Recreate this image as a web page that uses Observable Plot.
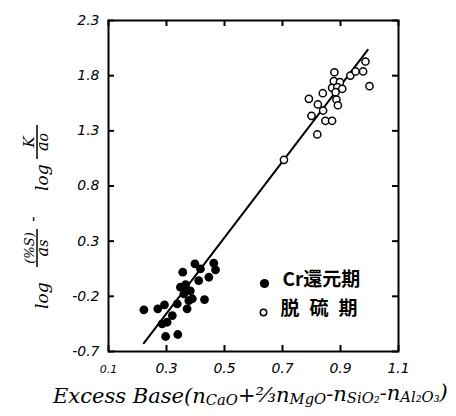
<!DOCTYPE html>
<html><head><meta charset="utf-8">
<script src="https://cdn.jsdelivr.net/npm/d3@7"></script>
<script src="https://cdn.jsdelivr.net/npm/@observablehq/plot@0.6"></script>
<style>body{margin:0;background:#fff}</style>
</head><body><div id="chart"></div>
<script>
const xTicks = [0.1, 0.3, 0.5, 0.7, 0.9, 1.1];
const yTicks = [-0.7, -0.2, 0.3, 0.8, 1.3, 1.8, 2.3];
// Cr還元期 (filled)
const crX = [0.222, 0.270, 0.293, 0.356, 0.398, 0.463, 0.469, 0.446, 0.417, 0.411, 0.348, 0.360, 0.377, 0.389, 0.371, 0.337, 0.431, 0.320, 0.302, 0.285, 0.297, 0.339, 0.366, 0.382];
const crY = [-0.322, -0.313, -0.277, 0.019, 0.095, 0.100, 0.040, -0.027, 0.049, -0.057, -0.117, -0.177, -0.238, -0.222, -0.313, -0.268, -0.229, -0.374, -0.435, -0.449, -0.564, -0.546, -0.093, -0.150];
// 脱硫期 (open)
const desX = [0.705, 0.820, 0.800, 0.840, 0.848, 0.871, 0.822, 0.791, 0.839, 0.886, 0.891, 0.879, 0.877, 0.898, 0.871, 0.889, 0.906, 0.883, 0.934, 0.952, 0.978, 0.986, 1.000];
const desY = [1.037, 1.267, 1.436, 1.484, 1.391, 1.391, 1.539, 1.590, 1.641, 1.584, 1.532, 1.831, 1.750, 1.741, 1.690, 1.696, 1.681, 1.650, 1.801, 1.838, 1.838, 1.928, 1.705];
// fitted line
const fitX = [0.222, 0.994];
const fitY = [-0.625, 2.034];
const legendLabels = ["Cr還元期", "脱硫期"];

const cr = crX.map((x, i) => ({x, y: crY[i]}));
const des = desX.map((x, i) => ({x, y: desY[i]}));
const fit = fitX.map((x, i) => ({x, y: fitY[i]}));

const W = 456, H = 416, ML = 108, MR = 58, MT = 20, MB = 65;
const innerW = W - ML - MR, innerH = H - MT - MB, TICK = 6;
const tickFont = "'DejaVu Sans', sans-serif";
const titleFont = "'DejaVu Serif', 'Liberation Serif', serif";
const cjkFont = "'Noto Sans CJK JP', sans-serif";
const plot = Plot.plot({
  width: W, height: H,
  marginLeft: ML, marginRight: MR, marginTop: MT, marginBottom: MB,
  x: {domain: [0.1, 1.1], axis: null},
  y: {domain: [-0.7, 2.3], axis: null},
  style: {background: "white", color: "black"},
  marks: [
    Plot.ruleX(xTicks, {x: d => d, insetTop: innerH - TICK, stroke: "black", strokeWidth: 2}),
    Plot.ruleX(xTicks, {x: d => d, insetBottom: innerH - TICK, stroke: "black", strokeWidth: 2}),
    Plot.ruleY(yTicks, {y: d => d, insetRight: innerW - TICK, stroke: "black", strokeWidth: 2}),
    Plot.ruleY(yTicks, {y: d => d, insetLeft: innerW - TICK, stroke: "black", strokeWidth: 2}),
    Plot.frame({stroke: "black", strokeWidth: 2}),
    Plot.text(xTicks, {x: d => d, frameAnchor: "bottom", dy: 21, text: d => d.toFixed(1),
      fontSize: d => d === 0.1 ? 11 : 14, fontStyle: "italic", fontFamily: tickFont}),
    Plot.text(yTicks, {y: d => d, frameAnchor: "left", dx: -9, textAnchor: "end", text: d => d.toFixed(1),
      fontSize: 14, fontStyle: "italic", fontFamily: tickFont}),
    Plot.line(fit, {x: "x", y: "y", stroke: "black", strokeWidth: 2}),
    Plot.dot(cr, {x: "x", y: "y", r: 4.4, fill: "black", stroke: "none"}),
    Plot.dot(des, {x: "x", y: "y", r: 3.6, fill: "white", stroke: "black", strokeWidth: 1.5}),
    Plot.dot([legendLabels[0]], {frameAnchor: "bottom-right", dx: -134, dy: -68, r: 4.6, fill: "black", stroke: "none"}),
    Plot.dot([legendLabels[1]], {frameAnchor: "bottom-right", dx: -135, dy: -39, r: 3.2, fill: "white", stroke: "black", strokeWidth: 1.5}),
    Plot.text([legendLabels[0]], {frameAnchor: "bottom-right", dx: -116, dy: -66, textAnchor: "start", text: d => d,
      fontSize: 19, fontWeight: "bold", fontFamily: cjkFont}),
    Plot.text([legendLabels[1]], {frameAnchor: "bottom-right", dx: -118, dy: -37, textAnchor: "start", text: d => d,
      fontSize: 19, fontWeight: "bold", fontFamily: cjkFont})
  ]
});
document.getElementById("chart").appendChild(plot);

const svg = d3.select(plot);
svg.selectAll("text").filter(function() { return this.textContent === legendLabels[1]; })
  .style("letter-spacing", "10px");

// x-axis title
const t = svg.append("text").attr("x", 53).attr("y", 403).attr("text-anchor", "start")
  .attr("font-family", titleFont).attr("font-style", "italic").attr("font-size", 20).attr("fill", "black");
const parts = [["Excess Base(n", 0], ["CaO", 1], ["+⅔n", 0], ["MgO", 1], ["-n", 0], ["SiO₂", 1], ["-n", 0], ["Al₂O₃", 1], [")", 0]];
let prevSub = 0;
for (const [s, sub] of parts) {
  const sp = t.append("tspan").text(s);
  if (sub) sp.attr("font-size", "0.7em");
  if (sub && !prevSub) sp.attr("dy", "0.15em");
  else if (!sub && prevSub) sp.attr("dy", "-0.15em");
  prevSub = sub;
}
const w = t.node().getComputedTextLength();
if (w > 0) t.attr("font-size", Math.min(24, 20 * 395 / w));

// y-axis title (rotated)
const g = svg.append("g").attr("transform", "translate(48,309) rotate(-90)").attr("text-anchor", "start")
  .attr("font-family", titleFont).attr("font-style", "italic").attr("fill", "black");
g.append("text").attr("x", 0).attr("y", 0).attr("font-size", 17).text("log");
g.append("text").attr("x", 61).attr("y", -14).attr("text-anchor", "middle").attr("font-size", 13).text("(%S)");
g.append("line").attr("x1", 42).attr("x2", 80).attr("y1", -11).attr("y2", -11).attr("stroke", "black").attr("stroke-width", 1.5);
const d1 = g.append("text").attr("x", 61).attr("y", 0).attr("text-anchor", "middle").attr("font-size", 16);
d1.append("tspan").text("a"); d1.append("tspan").attr("font-size", 14).text("s");
g.append("text").attr("x", 90).attr("y", -10).attr("text-anchor", "middle").attr("font-size", 16).text("-");
g.append("text").attr("x", 118).attr("y", 0).attr("font-size", 17).text("log");
g.append("text").attr("x", 167).attr("y", -14).attr("text-anchor", "middle").attr("font-size", 15).text("K");
g.append("line").attr("x1", 150).attr("x2", 184).attr("y1", -11).attr("y2", -11).attr("stroke", "black").attr("stroke-width", 1.5);
const d2 = g.append("text").attr("x", 167).attr("y", 0).attr("text-anchor", "middle").attr("font-size", 16);
d2.append("tspan").text("a"); d2.append("tspan").attr("font-size", 14).text("o");
</script>
</body></html>
